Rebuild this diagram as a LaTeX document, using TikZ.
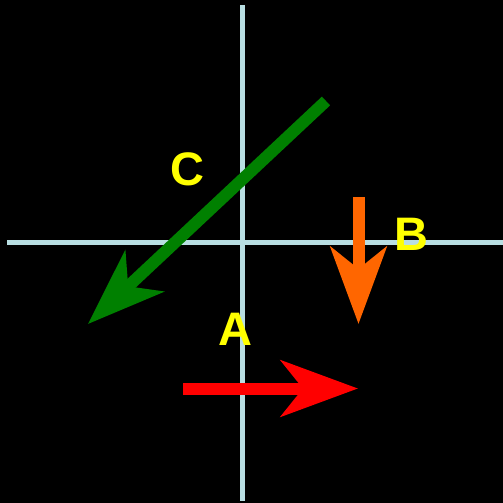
\documentclass[tikz,border=0pt]{standalone}
\usepackage{fontspec}
\setmainfont{Liberation Sans}
\usetikzlibrary{arrows.meta}
\definecolor{axiscol}{HTML}{B8DEE2}
\definecolor{arrred}{HTML}{FF0000}
\definecolor{arrorange}{HTML}{FF6600}
\definecolor{arrgreen}{HTML}{008000}
\definecolor{labyellow}{HTML}{FFFF00}
\tikzset{
  axisline/.style={draw=axiscol, line width=5pt},
  bigarrow/.style={line width=12pt, -{Stealth[length=77pt, width=56pt, inset=22pt]}},
  lab/.style={text=labyellow, font=\fontsize{47}{50}\selectfont\bfseries, inner sep=0pt}
}
\begin{document}
\begin{tikzpicture}[x=1pt,y=-1pt]
\fill[black] (0,0) rectangle (503,503);
\useasboundingbox (0,0) rectangle (503,503);
\coordinate (vtop) at (242.5,5);
\coordinate (vbot) at (242.5,501);
\coordinate (hl) at (7,242.5);
\coordinate (hr) at (503,242.5);
\draw[axisline] (vtop) -- (vbot);
\draw[axisline] (hl) -- (hr);
\coordinate (as) at (183,388.5);
\coordinate (ae) at (358,388.5);
\draw[bigarrow, arrred, fill=arrred] (as) -- (ae);
\coordinate (bs) at (358.5,197);
\coordinate (be) at (358.5,324);
\draw[bigarrow, arrorange, fill=arrorange] (bs) -- (be);
\coordinate (cs) at (326,101);
\coordinate (ce) at (88,324);
\draw[bigarrow, arrgreen, fill=arrgreen] (cs) -- (ce);
\node[lab] (labC) at (187,169.5) {C};
\node[lab] (labB) at (411,234) {B};
\node[lab] (labA) at (235,329) {A};
\end{tikzpicture}
\end{document}
